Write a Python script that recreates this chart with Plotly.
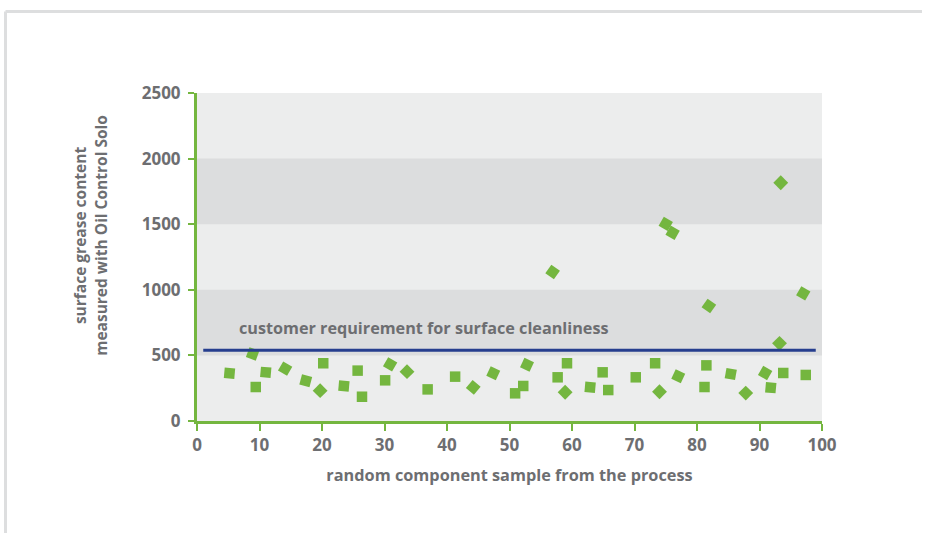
import plotly.graph_objects as go

# ---- data ----
sample_no = [5.2, 8.9, 9.4, 11.0, 14.1, 17.4, 19.7, 20.2, 23.5, 25.7, 26.4, 30.1,
             30.9, 33.6, 36.9, 41.3, 44.2, 47.4, 50.9, 52.2, 52.8, 56.9, 57.7, 58.9,
             59.2, 62.9, 64.9, 65.8, 70.2, 73.3, 74.0, 75.0, 76.1, 77.0, 81.2, 81.5,
             81.9, 85.4, 87.8, 90.9, 91.8, 93.2, 93.4, 93.8, 97.0, 97.4]
grease = [364, 511, 259, 371, 399, 307, 231, 440, 267, 384, 185, 310,
          432, 376, 241, 338, 257, 364, 211, 267, 429, 1136, 333, 219,
          440, 257, 371, 236, 333, 440, 223, 1502, 1435, 341, 259, 424,
          877, 358, 213, 366, 254, 592, 1816, 366, 973, 351]
marker_angles = [5, 20, 0, 5, 30, 15, 45, 0, 5, 0, 0, 0,
                 30, 45, 0, 0, 40, 25, 0, 0, 25, 35, 0, 45,
                 0, 5, 0, 0, 0, 0, 45, 30, 30, 25, 0, 0,
                 35, 10, 45, 30, 5, 45, 45, 0, 30, 0]
requirement = 540
requirement_label = "customer requirement for surface cleanliness"
x_title = "random component sample from the process"
y_title = "surface grease content<br>measured with Oil Control Solo"
x_ticks = list(range(0, 101, 10))
y_ticks = list(range(0, 2501, 500))
dark_bands = [(500, 1000), (1500, 2000)]

GREEN = "#74B63F"
GREY_TXT = "#6D6E71"
FONT = "Open Sans"

fig = go.Figure()
fig.add_trace(go.Scatter(
    x=sample_no, y=grease, mode="markers",
    marker=dict(symbol="square", size=10.5, color=GREEN, angle=marker_angles,
                line=dict(width=0)),
    hoverinfo="x+y", showlegend=False))

shapes = []
for lo, hi in dark_bands:
    shapes.append(dict(type="rect", xref="x domain", yref="y", x0=0, x1=1,
                       y0=lo, y1=hi, fillcolor="#DCDDDE", line=dict(width=0),
                       layer="below"))
shapes.append(dict(type="line", xref="x domain", yref="y", x0=0.01, x1=0.99,
                   y0=requirement, y1=requirement,
                   line=dict(color="#263E8E", width=3)))
# outer frame (top and left edges visible)
shapes.append(dict(type="line", xref="paper", yref="paper", x0=-0.3064, x1=1.16,
                   y0=1.2485, y1=1.2485, line=dict(color="#DDDEDF", width=3)))
shapes.append(dict(type="line", xref="paper", yref="paper", x0=-0.3064, x1=-0.3064,
                   y0=1.2485, y1=-0.36, line=dict(color="#DDDEDF", width=3)))

fig.update_layout(
    width=925, height=533,
    margin=dict(l=197, r=103, t=93, b=112, autoexpand=False),
    paper_bgcolor="white", plot_bgcolor="#ECEDED",
    font=dict(family=FONT, color=GREY_TXT),
    shapes=shapes,
    annotations=[
        dict(x=6.4, y=requirement + 70, xref="x", yref="y",
             text="<b>" + requirement_label + "</b>", showarrow=False,
             xanchor="left", yanchor="bottom",
             font=dict(family=FONT, size=16.2, color=GREY_TXT)),
        dict(x=-0.171, y=0.565, xref="paper", yref="paper", textangle=-90,
             text="<b>" + y_title + "</b>", showarrow=False,
             xanchor="center", yanchor="middle",
             font=dict(family=FONT, size=15.5, color=GREY_TXT)),
    ],
)
fig.update_xaxes(range=[0, 100], tickvals=x_ticks,
                 ticktext=["<b>%d</b>" % v for v in x_ticks],
                 showgrid=False, zeroline=False, showline=True, linecolor=GREEN,
                 linewidth=3, ticks="outside", ticklen=7, tickwidth=2, tickcolor=GREEN,
                 tickfont=dict(family=FONT, size=17, color=GREY_TXT),
                 title=dict(text="<b>" + x_title + "</b>",
                            font=dict(family=FONT, size=16.3, color=GREY_TXT)))
fig.update_yaxes(range=[0, 2500], tickvals=y_ticks,
                 ticktext=["<b>%d</b>" % v for v in y_ticks],
                 showgrid=False, zeroline=False, showline=True, linecolor=GREEN,
                 linewidth=3, ticks="outside", ticklen=6, tickwidth=2, tickcolor=GREEN,
                 ticklabelstandoff=4,
                 tickfont=dict(family=FONT, size=17, color=GREY_TXT))

fig.write_html("out.html", config={"displayModeBar": False},
               post_script="document.body.style.margin='0px';")
